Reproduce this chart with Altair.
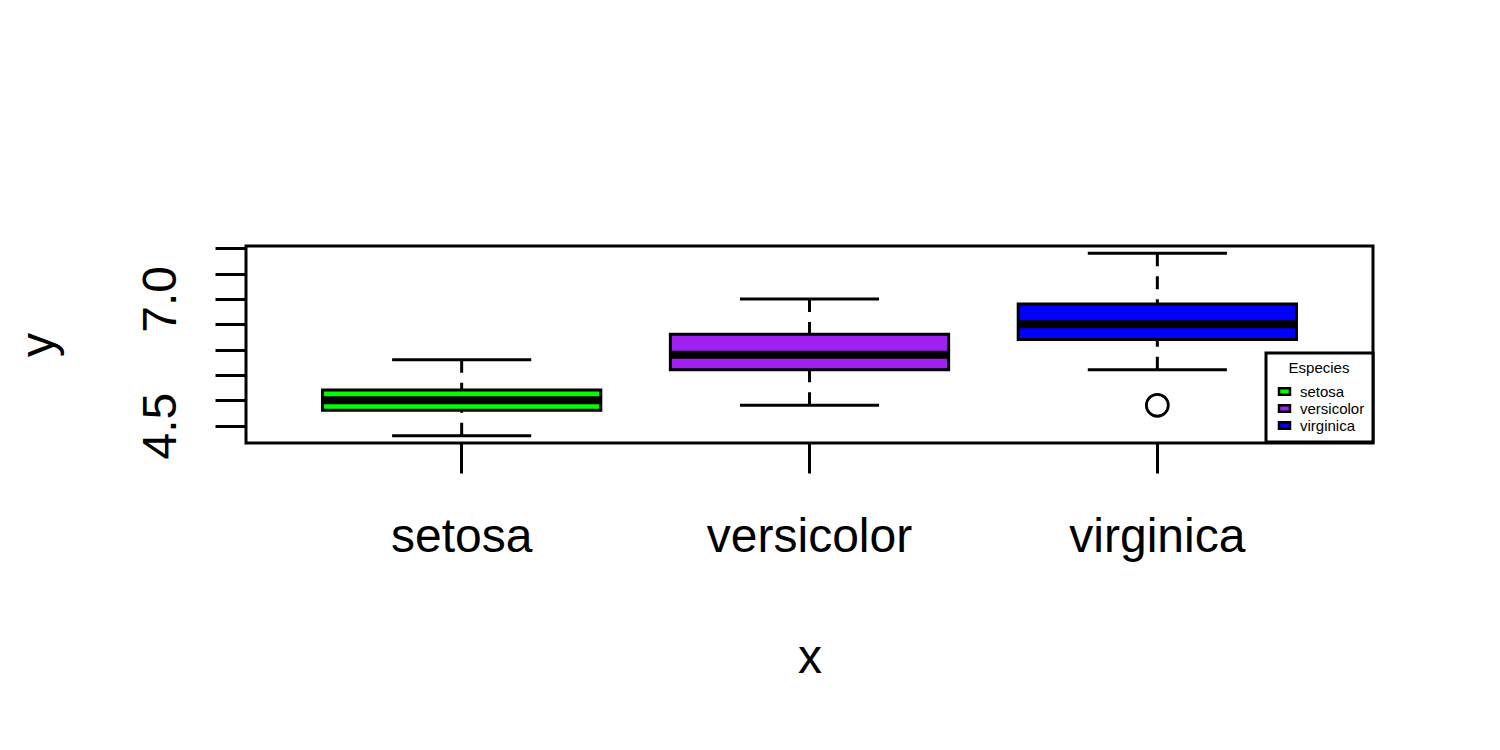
import json
import altair as alt
import pandas as pd

# ---- data (iris Sepal.Length boxplot stats) ----
species = ["setosa", "versicolor", "virginica"]
whisker_low = [4.3, 4.9, 5.6]
q1 = [4.8, 5.6, 6.2]
median = [5.0, 5.9, 6.5]
q3 = [5.2, 6.3, 6.9]
whisker_high = [5.8, 7.0, 7.9]
outlier_species = ["virginica"]
outlier_values = [4.9]
colors = ["#00FF00", "#A020F0", "#0000FF"]
y_ticks = [4.5, 5.0, 5.5, 6.0, 6.5, 7.0, 7.5, 8.0]
y_labels_shown = [4.5, 7.0]
y_domain = [4.156, 8.044]

FONT = "Arial, Liberation Sans, sans-serif"
W, H = 1127, 197
unit = W / 3.24
box_w = 0.8 * unit
staple_w = 0.4 * unit

df = pd.DataFrame({
    "species": species,
    "lo": whisker_low,
    "q1": q1,
    "med": median,
    "q3": q3,
    "hi": whisker_high,
})
out_df = pd.DataFrame({"species": outlier_species, "value": outlier_values})

x_enc = alt.X(
    "species:N",
    scale=alt.Scale(domain=species, paddingInner=0.2, paddingOuter=0.22),
    axis=alt.Axis(
        title="x",
        labelAngle=0,
        labelFont=FONT,
        labelFontSize=48,
        labelColor="black",
        labelPadding=40,
        labelBaseline="top",
        labelOverlap=False,
        labelLimit=0,
        tickSize=30,
        tickWidth=3,
        tickColor="black",
        domain=False,
        grid=False,
        titleFont=FONT,
        titleFontSize=48,
        titleFontWeight="normal",
        titleColor="black",
        titleX=W / 2,
        titleY=229,
        titleAlign="center",
        titleBaseline="alphabetic",
    ),
)

label_expr = (
    f"indexof({json.dumps(y_labels_shown)}, datum.value) >= 0 ? format(datum.value, '.1f') : ''"
)
y_scale = alt.Scale(domain=y_domain, nice=False, zero=False)
y_axis = alt.Axis(
    title="y",
    values=y_ticks,
    labelExpr=label_expr,
    labelAngle=270,
    labelAlign="center",
    labelBaseline="alphabetic",
    labelFont=FONT,
    labelFontSize=48,
    labelColor="black",
    labelPadding=40,
    labelOverlap=False,
    labelFlush=False,
    tickSize=31,
    tickWidth=3,
    tickColor="black",
    domain=False,
    grid=False,
    titleFont=FONT,
    titleFontSize=48,
    titleFontWeight="normal",
    titleColor="black",
    titleAngle=270,
    titleX=-193,
    titleY=H / 2,
    titleAlign="center",
    titleBaseline="alphabetic",
)

base = alt.Chart(df)

dash = dict(color="black", strokeWidth=3, strokeDash=[13, 10], strokeCap="butt", opacity=1)
lower_whisker = base.mark_rule(**dash).encode(
    x=x_enc,
    y=alt.Y("lo:Q", scale=y_scale, axis=y_axis),
    y2="q1:Q",
)
upper_whisker = base.mark_rule(**dash).encode(
    x=x_enc,
    y=alt.Y("hi:Q", scale=y_scale, axis=y_axis),
    y2="q3:Q",
)
low_staple = base.mark_tick(color="black", size=staple_w, thickness=3, opacity=1).encode(
    x=x_enc, y=alt.Y("lo:Q", scale=y_scale, axis=y_axis)
)
high_staple = base.mark_tick(color="black", size=staple_w, thickness=3, opacity=1).encode(
    x=x_enc, y=alt.Y("hi:Q", scale=y_scale, axis=y_axis)
)
box = base.mark_bar(stroke="black", strokeWidth=3, opacity=1).encode(
    x=x_enc,
    y=alt.Y("q1:Q", scale=y_scale, axis=y_axis),
    y2="q3:Q",
    fill=alt.Fill(
        "species:N",
        scale=alt.Scale(domain=species, range=colors),
        legend=alt.Legend(
            title="Especies",
            orient="none",
            legendX=1020,
            legendY=107,
            padding=8,
            fillColor="white",
            strokeColor="black",
            titleFont=FONT,
            titleFontSize=15,
            titleFontWeight="normal",
            titleColor="black",
            titleAnchor="middle",
            titleAlign="center",
            titlePadding=8,
            labelFont=FONT,
            labelFontSize=15,
            labelColor="black",
            labelOffset=8,
            labelLimit=0,
            symbolOffset=3,
            symbolType="M-1,-0.6L1,-0.6L1,0.6L-1,0.6Z",
            symbolSize=121,
            symbolStrokeColor="black",
            symbolStrokeWidth=2.5,
            symbolOpacity=1,
            rowPadding=0,
        ),
    ),
)
med_line = base.mark_tick(color="black", size=box_w, thickness=8, opacity=1).encode(
    x=x_enc, y=alt.Y("med:Q", scale=y_scale, axis=y_axis)
)
outliers = alt.Chart(out_df).mark_point(
    shape="circle", size=480, filled=False, stroke="black", strokeWidth=2.8, opacity=1
).encode(
    x=x_enc, y=alt.Y("value:Q", scale=y_scale, axis=y_axis)
)

chart = (
    alt.layer(lower_whisker, upper_whisker, low_staple, high_staple, box, med_line, outliers)
    .properties(
        width=W,
        height=H,
        autosize=alt.AutoSizeParams(type="none"),
        padding={"left": 238, "top": 238, "right": 100, "bottom": 250},
        background="white",
    )
    .configure_view(stroke="black", strokeWidth=3)
    .configure_legend(strokeWidth=3)
)

chart.save("out.html", embed_options={"renderer": "svg", "actions": False})
